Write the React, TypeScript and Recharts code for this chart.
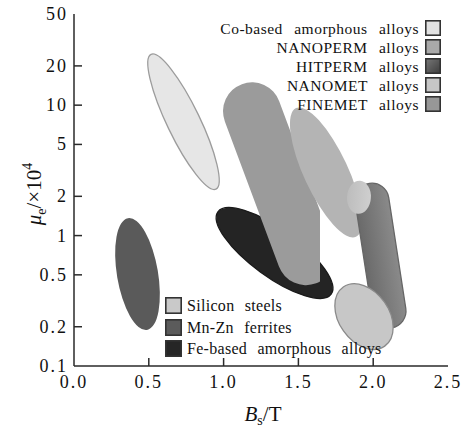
import { ScatterChart, Scatter, XAxis, YAxis } from 'recharts'

// regions in (Bs / T, μe / 10^4): two points on the long axis + one point on the side
const coBased = [{ x: 0.515, y: 24.5 }, { x: 0.949, y: 2.27 }, { x: 0.831, y: 8.45 }]
const mnZn = [{ x: 0.361, y: 1.36 }, { x: 0.488, y: 0.189 }, { x: 0.56, y: 0.537 }]
const feBased = [{ x: 0.962, y: 1.52 }, { x: 1.719, y: 0.355 }, { x: 1.434, y: 1.03 }]
// FINEMET is a capsule cut off at Bs = 1.645
const finemet = [{ x: 1.19, y: 8.97 }, { x: 1.551, y: 0.695 }, { x: 1.372, y: 10.7 }, { x: 1.645, y: 1 }]
const nanoperm = [{ x: 1.484, y: 9.5 }, { x: 1.885, y: 0.98 }, { x: 1.818, y: 3.6 }]
const hitperm = [{ x: 1.992, y: 1.87 }, { x: 2.106, y: 0.264 }, { x: 2.104, y: 1.95 }]
const nanomet = [{ x: 1.912, y: 2.63 }, { x: 1.898, y: 1.47 }, { x: 1.985, y: 1.97 }]
const silicon = [{ x: 1.8, y: 0.403 }, { x: 2.077, y: 0.142 }, { x: 2.076, y: 0.308 }]

const xTicks = [0, 0.5, 1, 1.5, 2, 2.5]
const yTicks = [0.1, 0.2, 0.5, 1, 2, 5, 10, 20, 50]

const topLegend = ['Co-based amorphous alloys', 'NANOPERM alloys', 'HITPERM alloys', 'NANOMET alloys', 'FINEMET alloys']
const topSwatch = ['#e2e2e2', '#a9a9a9', 'url(#lg-hit)', '#c6c6c6', '#979797']
const bottomLegend = ['Silicon steels', 'Mn-Zn ferrites', 'Fe-based amorphous alloys']
const bottomSwatch = ['#c9c9c9', '#5b5b5b', '#262626']

const FONT = 'Liberation Serif, Tinos, DejaVu Serif, Times New Roman, serif'
const INK = '#2a2a2a'

type Pt = { x: number; y: number }

function geom(pts: Pt[]) {
  const [p, q, s] = pts
  const cx = (p.x + q.x) / 2
  const cy = (p.y + q.y) / 2
  const dx = q.x - p.x
  const dy = q.y - p.y
  const len = Math.hypot(dx, dy)
  const ux = dx / len
  const uy = dy / len
  const w = Math.abs((s.x - cx) * -uy + (s.y - cy) * ux)
  const angle = (Math.atan2(dy, dx) * 180) / Math.PI
  return { cx, cy, len, w, angle }
}

const region = (kind: 'ellipse' | 'capsule', fill: string, stroke = 'none', grad?: [string, string], id?: string) =>
  (props: any) => {
    const pts: Pt[] = props.points
    if (!pts || pts.length < 3) return <g />
    const { cx, cy, len, w, angle } = geom(pts)
    const tr = `rotate(${angle} ${cx} ${cy})`
    const f = grad ? `url(#${id}-g)` : fill
    const clip = pts.length > 3 ? `url(#${id}-c)` : undefined
    return (
      <g clipPath={clip}>
        <defs>
          {grad && (
            <linearGradient id={`${id}-g`} x1="0" y1="0" x2="0" y2="1">
              <stop offset="0%" stopColor={grad[0]} />
              <stop offset="100%" stopColor={grad[1]} />
            </linearGradient>
          )}
          {pts.length > 3 && (
            <clipPath id={`${id}-c`}>
              <rect x={-1000} y={-1000} width={pts[3].x + 1000} height={3000} />
            </clipPath>
          )}
        </defs>
        {kind === 'ellipse' ? (
          <ellipse cx={cx} cy={cy} rx={len / 2} ry={w} transform={tr} fill={f} stroke={stroke} strokeWidth={1.3} />
        ) : (
          <rect x={cx - len / 2 - w} y={cy - w} width={len + 2 * w} height={2 * w} rx={w} ry={w}
            transform={tr} fill={f} stroke={stroke} strokeWidth={1.3} />
        )}
      </g>
    )
  }

const NoDot = () => <g />

const XTick = (props: any) => {
  const { x, y, payload } = props
  const v = payload.value
  return (
    <g>
      {v > 0 && v < 2.5 && <line x1={x} x2={x} y1={y} y2={y - 8} stroke={INK} strokeWidth={1.5} />}
      <text x={x} y={y + 22} textAnchor="middle" fontSize={18} letterSpacing={2} fill="#111" fontFamily={FONT}>
        {v.toFixed(1)}
      </text>
    </g>
  )
}

const YTick = (props: any) => {
  const { x, y, payload } = props
  const v = payload.value
  return (
    <g>
      {v > 0.1 && v < 50 && <line x1={x} x2={x + 8} y1={y} y2={y} stroke={INK} strokeWidth={1.5} />}
      <text x={x - 6} y={y + 6} textAnchor="end" fontSize={18} letterSpacing={2} fill="#111" fontFamily={FONT}>
        {String(v)}
      </text>
    </g>
  )
}

const XTitle = (props: any) => {
  const { x, y, width } = props.viewBox
  return (
    <text x={x + width / 2 + 2} y={y + 55} textAnchor="middle" fontSize={21} fill="#111" fontFamily={FONT}>
      <tspan fontStyle="italic">B</tspan>
      <tspan fontSize={14} dy={4}>s</tspan>
      <tspan dy={-4}>/T</tspan>
    </text>
  )
}

const YTitle = (props: any) => {
  const { y, height } = props.viewBox
  const cx = 41
  const cy = y + height / 2 + 4
  return (
    <text x={cx} y={cy} transform={`rotate(-90 ${cx} ${cy})`} textAnchor="middle" fontSize={21} fill="#111" fontFamily={FONT}>
      <tspan fontStyle="italic">μ</tspan>
      <tspan fontSize={14} dy={5}>e</tspan>
      <tspan dy={-5}>/×10</tspan>
      <tspan fontSize={14} dy={-9}>4</tspan>
    </text>
  )
}

const swatch = (fill: string, size: number) => (
  <svg width={size} height={size} style={{ display: 'block', flex: 'none' }}>
    <defs>
      <linearGradient id="lg-hit" x1="0" y1="0" x2="1" y2="1">
        <stop offset="0%" stopColor="#777" />
        <stop offset="100%" stopColor="#3d3d3d" />
      </linearGradient>
    </defs>
    <rect x={0.8} y={0.8} width={size - 1.6} height={size - 1.6} fill={fill} stroke="#333" strokeWidth={1.6} />
  </svg>
)

export default function App() {
  const label = {
    fontFamily: FONT, fontSize: 15.5, color: '#111', letterSpacing: 0.5, wordSpacing: 7,
    whiteSpace: 'nowrap' as const, lineHeight: '15px',
  }
  return (
    <div style={{ position: 'relative', width: 464, height: 430, background: '#fff', fontFamily: FONT }}>
      <style>{'body{margin:0}'}</style>
      <ScatterChart width={464} height={430} margin={{ top: 14, right: 16, left: 0, bottom: 0 }}>
        <XAxis dataKey="x" type="number" domain={[0, 2.5]} ticks={xTicks} height={64} tickSize={0} tickMargin={0}
          tick={XTick} axisLine={{ stroke: INK, strokeWidth: 1.5 }} label={{ content: XTitle }} allowDataOverflow />
        <YAxis dataKey="y" type="number" scale="log" domain={[0.1, 50]} ticks={yTicks} width={74} tickSize={0}
          tickMargin={0} tick={YTick} axisLine={{ stroke: INK, strokeWidth: 1.5 }} label={{ content: YTitle }}
          allowDataOverflow />
        <XAxis xAxisId="top" orientation="top" dataKey="x" type="number" domain={[0, 2.5]} height={0} tick={false}
          tickLine={false} axisLine={{ stroke: INK, strokeWidth: 1.5 }} />
        <YAxis yAxisId="right" orientation="right" dataKey="y" type="number" domain={[0, 1]} width={0} tick={false}
          tickLine={false} axisLine={{ stroke: INK, strokeWidth: 1.5 }} />
        <Scatter data={coBased} shape={NoDot} line={region('ellipse', '#e6e6e6', '#9c9c9c', undefined, 'co')} isAnimationActive={false} />
        <Scatter data={mnZn} shape={NoDot} line={region('ellipse', '#5a5a5a', 'none', undefined, 'mn')} isAnimationActive={false} />
        <Scatter data={feBased} shape={NoDot} line={region('ellipse', '#242424', '#1a1a1a', undefined, 'fe')} isAnimationActive={false} />
        <Scatter data={finemet} shape={NoDot} line={region('capsule', '#9b9b9b', 'none', undefined, 'fm')} isAnimationActive={false} />
        <Scatter data={nanoperm} shape={NoDot} line={region('ellipse', '#b4b4b4', 'none', undefined, 'np')} isAnimationActive={false} />
        <Scatter data={hitperm} shape={NoDot} line={region('capsule', '#7a7a7a', '#666', ['#8a8a8a', '#6a6a6a'], 'hp')} isAnimationActive={false} />
        <Scatter data={nanomet} shape={NoDot} line={region('ellipse', '#c8c8c8', 'none', ['#cfcfcf', '#bdbdbd'], 'nm')} isAnimationActive={false} />
        <Scatter data={silicon} shape={NoDot} line={region('ellipse', '#c7c7c7', '#8a8a8a', undefined, 'si')} isAnimationActive={false} />
      </ScatterChart>
      {topLegend.map((t, i) => (
        <div key={t} style={{ position: 'absolute', right: 23, top: 20 + i * 19, display: 'flex', alignItems: 'center', gap: 6 }}>
          <span style={label}>{t}</span>
          {swatch(topSwatch[i], 16)}
        </div>
      ))}
      {bottomLegend.map((t, i) => (
        <div key={t} style={{ position: 'absolute', left: 165, top: 297 + i * 21.7, display: 'flex', alignItems: 'center', gap: 5 }}>
          {swatch(bottomSwatch[i], 17)}
          <span style={{ ...label, fontSize: 16, letterSpacing: 0.3, wordSpacing: 6 }}>{t}</span>
        </div>
      ))}
    </div>
  )
}
